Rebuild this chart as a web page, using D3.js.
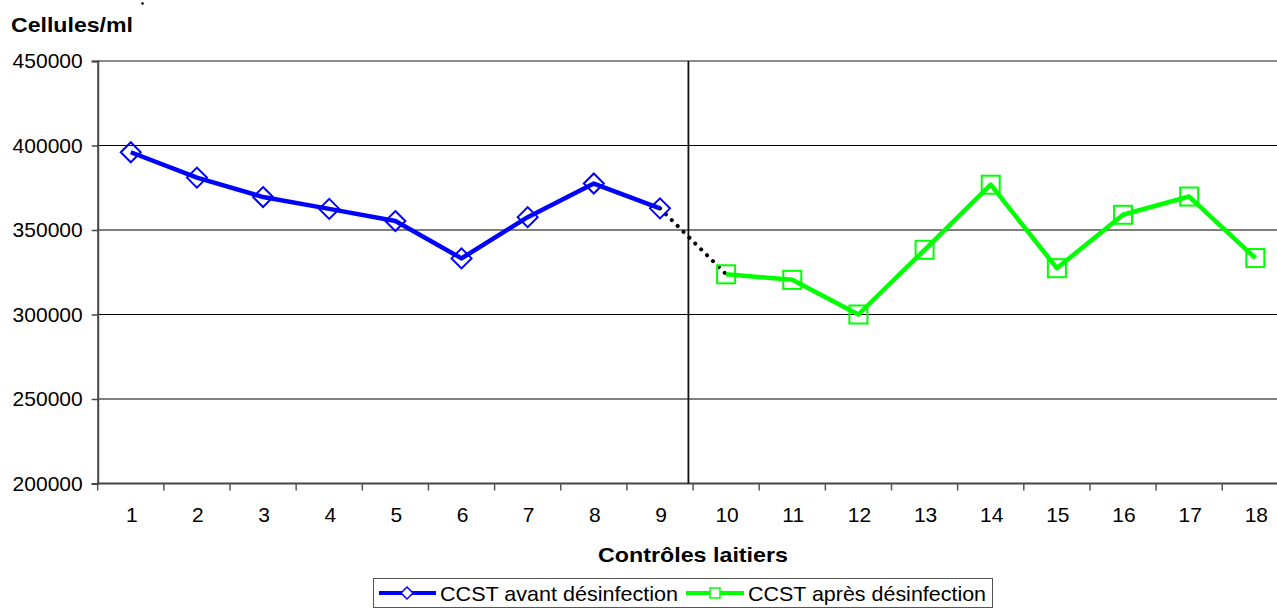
<!DOCTYPE html>
<html>
<head>
<meta charset="utf-8">
<script src="https://cdn.jsdelivr.net/npm/d3@7"></script>
<style>
  html, body { margin: 0; padding: 0; background: #fff; }
  svg { display: block; font-family: "Liberation Sans", Arial, sans-serif; }
</style>
</head>
<body>
<svg id="chart" width="1277" height="612"></svg>
<script>
// Milk recording controls 1–18
const controles = d3.range(1, 19);
// Somatic cell counts before disinfection (controls 1–9)
const avantControles = [1, 2, 3, 4, 5, 6, 7, 8, 9];
const avantValeurs = [396000, 381000, 369500, 362500, 355300, 333200, 357600, 377500, 362800];
// Somatic cell counts after disinfection (controls 10–18)
const apresControles = [10, 11, 12, 13, 14, 15, 16, 17, 18];
const apresValeurs = [323800, 320500, 300000, 338300, 376800, 327400, 359000, 369800, 333400];
const yTicks = [200000, 250000, 300000, 350000, 400000, 450000];
const serieNoms = ["CCST avant désinfection", "CCST après désinfection"];

const svg = d3.select("#chart");
const plotLeft = 97.7, plotTop = 61, plotBottom = 483.5, step = 66.15;

const x = d3.scaleBand().domain(controles).range([plotLeft, plotLeft + step * controles.length]).paddingInner(0).paddingOuter(0);
const cx = d => x(d) + x.bandwidth() / 2;
const y = d3.scaleLinear().domain([200000, 450000]).range([plotBottom, plotTop]);

// horizontal gridlines
svg.append("g").selectAll("line").data(yTicks).join("line")
  .attr("x1", plotLeft).attr("x2", 1277)
  .attr("y1", d => y(d)).attr("y2", d => y(d))
  .attr("stroke", d => d === 450000 ? "#8c8c8c" : "#000")
  .attr("stroke-width", d => d === 450000 ? 2 : 1.2);

// y axis
const yAxis = svg.append("g").attr("transform", `translate(${plotLeft},0)`)
  .call(d3.axisLeft(y).tickValues(yTicks).tickSize(6).tickPadding(9).tickFormat(d3.format("d")));
yAxis.select(".domain").attr("stroke", "#444").attr("stroke-width", 2);
yAxis.selectAll(".tick line").attr("stroke", "#444").attr("stroke-width", 1.5);
yAxis.selectAll("text").attr("font-size", 21).attr("fill", "#000").attr("font-family", "Liberation Sans, Arial, sans-serif");

// x axis with ticks between categories
const xAxisG = svg.append("g").attr("transform", `translate(0,${plotBottom})`);
xAxisG.append("line").attr("x1", plotLeft).attr("x2", 1277).attr("y1", 0).attr("y2", 0)
  .attr("stroke", "#444").attr("stroke-width", 2);
xAxisG.selectAll("line.tk").data(controles).join("line").attr("class", "tk")
  .attr("x1", d => x(d)).attr("x2", d => x(d)).attr("y1", 0).attr("y2", 7)
  .attr("stroke", "#555").attr("stroke-width", 1.5);
xAxisG.selectAll("text").data(controles).join("text")
  .attr("x", d => cx(d) + 1).attr("y", 38.5)
  .attr("text-anchor", "middle").attr("font-size", 21).text(d => d);

// separation between the two periods
svg.append("line")
  .attr("x1", cx(9) + step * 0.43).attr("x2", cx(9) + step * 0.43)
  .attr("y1", plotTop).attr("y2", plotBottom)
  .attr("stroke", "#111").attr("stroke-width", 1.8);

// dotted link between last point before and first point after
svg.append("line")
  .attr("x1", cx(9)).attr("y1", y(avantValeurs[8]))
  .attr("x2", cx(10)).attr("y2", y(apresValeurs[0]))
  .attr("stroke", "#000").attr("stroke-width", 4)
  .attr("stroke-linecap", "round").attr("stroke-dasharray", "0.1 8.2");

const line = d3.line().x(d => cx(d[0])).y(d => y(d[1]));
const avant = avantControles.map((c, i) => [c, avantValeurs[i]]);
const apres = apresControles.map((c, i) => [c, apresValeurs[i]]);

svg.append("path").datum(avant).attr("d", line)
  .attr("fill", "none").attr("stroke", "#0000ff").attr("stroke-width", 4.5).attr("stroke-linejoin", "round");
svg.append("path").datum(apres).attr("d", line)
  .attr("fill", "none").attr("stroke", "#00ff00").attr("stroke-width", 4.5).attr("stroke-linejoin", "round");

const diamond = r => `M0,${-r}L${r},0L0,${r}L${-r},0Z`;
svg.append("g").selectAll("path").data(avant).join("path")
  .attr("transform", d => `translate(${cx(d[0])},${y(d[1])})`)
  .attr("d", diamond(10)).attr("fill", "none").attr("stroke", "#0000ff").attr("stroke-width", 2);
svg.append("g").selectAll("rect").data(apres).join("rect")
  .attr("x", d => cx(d[0]) - 9).attr("y", d => y(d[1]) - 9)
  .attr("width", 18).attr("height", 18)
  .attr("fill", "none").attr("stroke", "#00ff00").attr("stroke-width", 2);

// titles
svg.append("text").attr("x", 11).attr("y", 32).attr("font-size", 21).attr("font-weight", "bold")
  .attr("textLength", 122).attr("lengthAdjust", "spacingAndGlyphs").text("Cellules/ml");
// small speck above the axis title
svg.append("circle").attr("cx", 142.5).attr("cy", 3.5).attr("r", 1.3).attr("fill", "#000");
svg.append("text").attr("x", 598).attr("y", 562).attr("font-size", 21).attr("font-weight", "bold")
  .attr("textLength", 190).attr("lengthAdjust", "spacingAndGlyphs").text("Contrôles laitiers");

// legend
const leg = svg.append("g");
leg.append("rect").attr("x", 373.5).attr("y", 578.5).attr("width", 619).attr("height", 29)
  .attr("fill", "#fff").attr("stroke", "#555").attr("stroke-width", 1);
const ly = 593;
leg.append("line").attr("x1", 379).attr("x2", 436).attr("y1", ly).attr("y2", ly).attr("stroke", "#0000ff").attr("stroke-width", 4);
leg.append("path").attr("transform", `translate(407,${ly})`).attr("d", diamond(6))
  .attr("fill", "#fff").attr("stroke", "#0000ff").attr("stroke-width", 1.5);
leg.append("text").attr("x", 440).attr("y", ly + 8).attr("font-size", 21)
  .attr("textLength", 238).attr("lengthAdjust", "spacingAndGlyphs").text(serieNoms[0]);
leg.append("line").attr("x1", 686).attr("x2", 744).attr("y1", ly).attr("y2", ly).attr("stroke", "#00ff00").attr("stroke-width", 4);
leg.append("rect").attr("x", 710).attr("y", ly - 5).attr("width", 10).attr("height", 10)
  .attr("fill", "#fff").attr("stroke", "#00ff00").attr("stroke-width", 1.5);
leg.append("text").attr("x", 748).attr("y", ly + 8).attr("font-size", 21)
  .attr("textLength", 238).attr("lengthAdjust", "spacingAndGlyphs").text(serieNoms[1]);
</script>
</body>
</html>
